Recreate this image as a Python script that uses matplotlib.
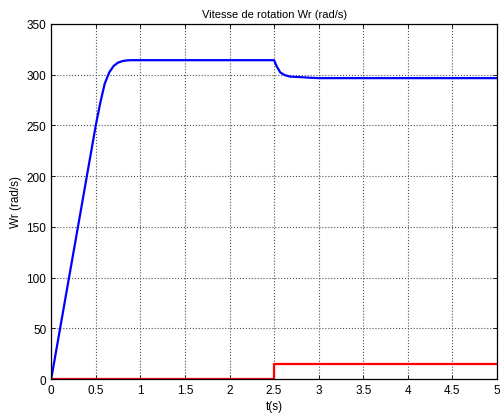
import matplotlib
matplotlib.use('Agg')
import matplotlib.pyplot as plt

# rotor speed Wr (rad/s)
t_wr = [0.0, 0.1, 0.2, 0.3, 0.4, 0.5, 0.55, 0.6, 0.65, 0.70, 0.75, 0.80, 0.85, 0.9, 2.5,
        2.53, 2.57, 2.62, 2.68, 2.8, 2.92, 3.0, 5.0]
wr = [0.0, 50, 100, 150, 200, 250, 272, 291, 302, 308.5, 311.8, 313.3, 314, 314.2, 314.2,
      308, 302, 299.5, 298, 297.5, 296.8, 296.5, 296.5]

# load torque step
t_cr = [0.0, 2.5, 2.5, 5.0]
cr = [0.0, 0.0, 15.0, 15.0]

xticks = [0, 0.5, 1, 1.5, 2, 2.5, 3, 3.5, 4, 4.5, 5]
xtick_labels = ['0', '0.5', '1', '1.5', '2', '2.5', '3', '3.5', '4', '4.5', '5']
yticks = [0, 50, 100, 150, 200, 250, 300, 350]

plt.rcParams['font.family'] = ['Liberation Sans', 'DejaVu Sans']
fig = plt.figure(figsize=(5.02, 4.14), dpi=100)
ax = fig.add_axes([0.102, 0.082, 0.888, 0.858])

ax.plot(t_wr, wr, color='#0000ff', lw=1.6)
ax.plot(t_cr, cr, color='#ff0000', lw=1.6)

ax.set_xlim(0, 5)
ax.set_ylim(0, 350)
ax.set_xticks(xticks)
ax.set_xticklabels(xtick_labels)
ax.set_yticks(yticks)
ax.tick_params(direction='in', top=True, right=True, labelsize=8.5, length=3, width=0.6)
ax.grid(True, linestyle=':', color='#505050', lw=0.8)
for s in ax.spines.values():
    s.set_linewidth(0.9)

ax.set_title('Vitesse de rotation Wr (rad/s)', fontsize=8, pad=5)
ax.set_xlabel('t(s)', fontsize=8.5, labelpad=3)
ax.set_ylabel('Wr (rad/s)', fontsize=8.5, labelpad=3)

fig.savefig('out.png', dpi=100)
